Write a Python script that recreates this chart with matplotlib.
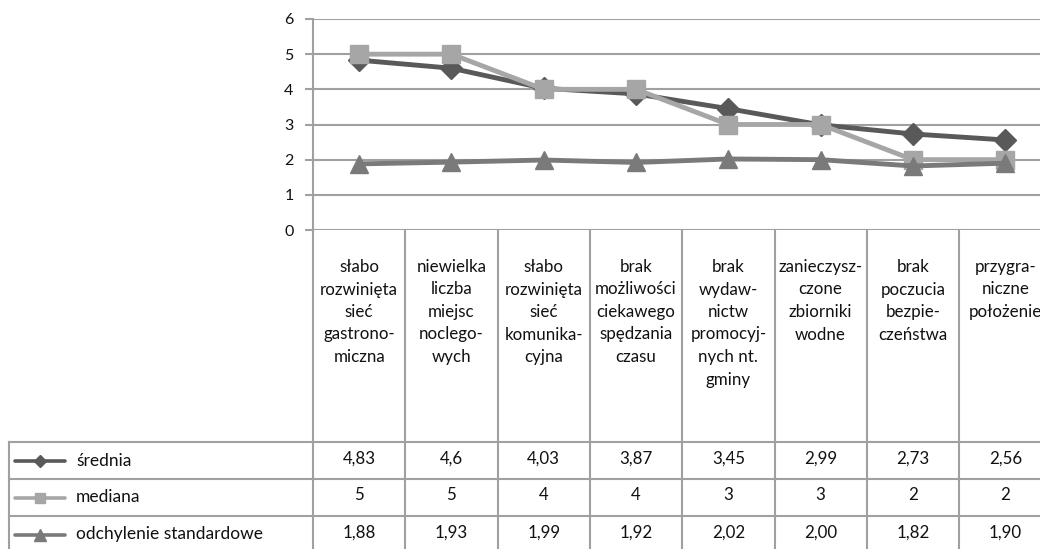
import matplotlib
matplotlib.use("Agg")
import matplotlib.pyplot as plt

categories = [
    "słabo\nrozwinięta\nsieć\ngastrono-\nmiczna",
    "niewielka\nliczba\nmiejsc\nnoclego-\nwych",
    "słabo\nrozwinięta\nsieć\nkomunika-\ncyjna",
    "brak\nmożliwości\nciekawego\nspędzania\nczasu",
    "brak\nwydaw-\nnictw\npromocyj-\nnych nt.\ngminy",
    "zanieczysz-\nczone\nzbiorniki\nwodne",
    "brak\npoczucia\nbezpie-\nczeństwa",
    "przygra-\nniczne\npołożenie",
]
series_names = ["średnia", "mediana", "odchylenie standardowe"]
srednia = [4.83, 4.6, 4.03, 3.87, 3.45, 2.99, 2.73, 2.56]
mediana = [5, 5, 4, 4, 3, 3, 2, 2]
odchylenie = [1.88, 1.93, 1.99, 1.92, 2.02, 2.00, 1.82, 1.90]
srednia_txt = ["4,83", "4,6", "4,03", "3,87", "3,45", "2,99", "2,73", "2,56"]
mediana_txt = ["5", "5", "4", "4", "3", "3", "2", "2"]
odchylenie_txt = ["1,88", "1,93", "1,99", "1,92", "2,02", "2,00", "1,82", "1,90"]
yticks = [0, 1, 2, 3, 4, 5, 6]

plt.rcParams['font.family'] = ['Lato', 'DejaVu Sans']

W, H = 1040, 549
fig = plt.figure(figsize=(W / 100, H / 100), dpi=100)

x0 = 313.0
colw = 92.3
y_top = 19.0
y_zero = 230.0
n = len(categories)
grid_c = '#a0a0a0'
txt_c = '#111111'

ax = fig.add_axes([x0 / W, 1 - y_zero / H, n * colw / W, (y_zero - y_top) / H])
ax.set_xlim(-0.5, n - 0.5)
ax.set_ylim(0, 6)
for s in ['top', 'right', 'bottom']:
    ax.spines[s].set_visible(False)
ax.spines['left'].set_color(grid_c)
ax.spines['left'].set_linewidth(1.5)
ax.set_yticks(yticks)
ax.set_yticklabels([str(t) for t in yticks], fontsize=11.5, color=txt_c)
ax.tick_params(axis='y', direction='out', length=6, width=1.5, color=grid_c, pad=8)
ax.set_xticks([])
ax.grid(axis='y', color=grid_c, linewidth=1.5)
ax.set_axisbelow(True)

styles = [
    dict(color='#595959', marker='D', markersize=11),
    dict(color='#a6a6a6', marker='s', markersize=13),
    dict(color='#7a7a7a', marker='^', markersize=13),
]
data = [srednia, mediana, odchylenie]
xs = list(range(n))
for vals, st in zip(data, styles):
    ax.plot(xs, vals, color=st['color'], lw=3.5, marker=st['marker'],
            markersize=st['markersize'], markerfacecolor=st['color'],
            markeredgecolor=st['color'], clip_on=False, zorder=3)

ov = fig.add_axes([0, 0, 1, 1])
ov.set_xlim(0, W)
ov.set_ylim(H, 0)
ov.axis('off')

rows_y = [442, 479, 516, 553]
tab_left = 9
for i in range(n + 1):
    x = x0 + i * colw
    ov.plot([x, x], [y_zero, rows_y[-1]], color=grid_c, lw=1.5, solid_capstyle='butt')
ov.plot([tab_left, tab_left], [rows_y[0], rows_y[-1]], color=grid_c, lw=1.5)
for y in rows_y:
    ov.plot([tab_left, W + 20], [y, y], color=grid_c, lw=1.5)

for i, lab in enumerate(categories):
    ov.text(x0 + (i + 0.5) * colw, 259, lab, ha='center', va='top',
            fontsize=12.2, linespacing=1.5, color=txt_c)

txts = [srednia_txt, mediana_txt, odchylenie_txt]
leg_ms = [6.5, 7, 8]
for r, (name, st, tv) in enumerate(zip(series_names, styles, txts)):
    yc = (rows_y[r] + rows_y[r + 1]) / 2
    ov.plot([15, 65], [yc, yc], color=st['color'], lw=2.6, solid_capstyle='round')
    ov.plot([40], [yc], marker=st['marker'], color=st['color'],
            markersize=leg_ms[r])
    ov.text(76, yc, name, ha='left', va='center', fontsize=12.5, color=txt_c)
    for i, t in enumerate(tv):
        ov.text(x0 + (i + 0.5) * colw, yc - 2, t, ha='center', va='center',
                fontsize=12.2, color=txt_c)

fig.savefig('out.png', dpi=100)
